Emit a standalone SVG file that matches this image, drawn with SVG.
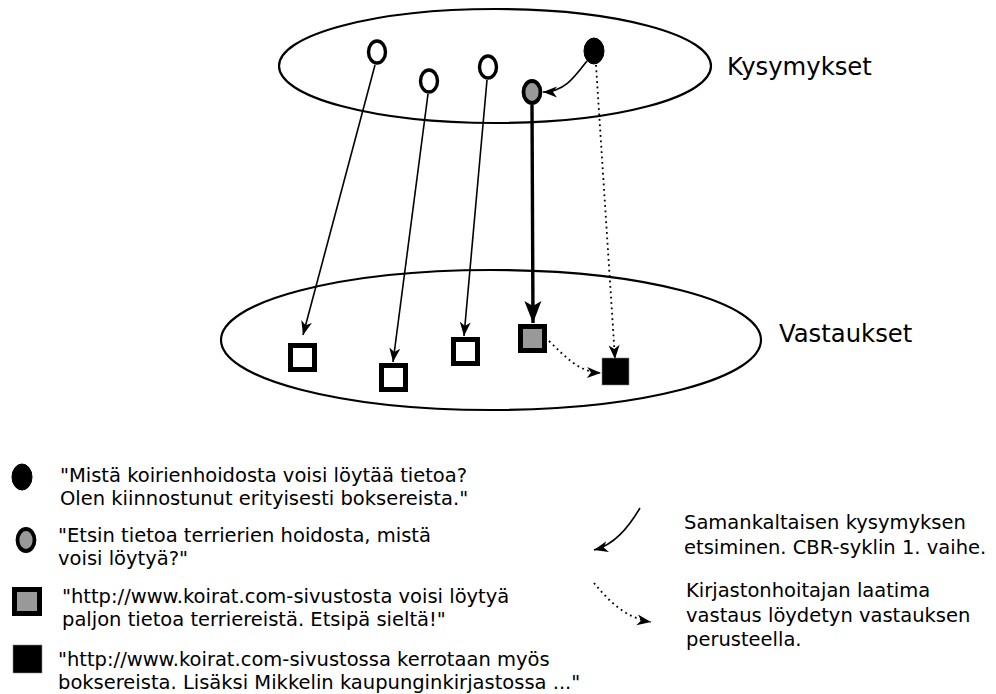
<svg xmlns="http://www.w3.org/2000/svg" width="996" height="694" viewBox="0 0 996 694">
  <defs>
    <style>
      .set { fill: none; stroke: #000; stroke-width: 2.2; }
      .q-open { fill: #fff; stroke: #000; stroke-width: 3.4; }
      .q-gray { fill: #999; stroke: #000; stroke-width: 3.8; }
      .q-black { fill: #000; stroke: #000; stroke-width: 1; }
      .a-open { fill: #fff; stroke: #000; stroke-width: 5; }
      .a-gray { fill: #999; stroke: #000; stroke-width: 5; }
      .a-black { fill: #000; stroke: #888; stroke-width: 0.6; }
      .link { fill: none; stroke: #000; stroke-width: 1.6; }
      .thick { fill: none; stroke: #000; stroke-width: 3.4; }
      .dot { fill: none; stroke: #000; stroke-width: 1.8; stroke-dasharray: 1.8 3.6; }
      text { font-family: "DejaVu Sans", "Liberation Sans", sans-serif; fill: #000; }
      .title { font-size: 24.3px; }
      .legend { font-size: 19.5px; }
    </style>
    <marker id="dart" viewBox="-15 -7 17 14" markerWidth="17" markerHeight="14" refX="0" refY="0" orient="auto" markerUnits="userSpaceOnUse">
      <path d="M 0,0 L -14,-5.5 L -10,0 L -14,5.5 Z" fill="#000"/>
    </marker>
    <marker id="dartBig" viewBox="-24 -10 26 20" markerWidth="26" markerHeight="20" refX="0" refY="0" orient="auto" markerUnits="userSpaceOnUse">
      <path d="M 0,0 L -22,-8.5 L -17,0 L -22,8.5 Z" fill="#000"/>
    </marker>
  </defs>

  <!-- question and answer sets -->
  <g id="set-kysymykset">
    <ellipse class="set" cx="495" cy="66" rx="216" ry="57"/>
    <text class="title" x="727" y="75">Kysymykset</text>
  </g>
  <g id="set-vastaukset">
    <ellipse class="set" cx="491" cy="340" rx="270" ry="70"/>
    <text class="title" x="779" y="342">Vastaukset</text>
  </g>

  <!-- connectors -->
  <g id="connectors">
    <line class="link" x1="375" y1="65" x2="303" y2="335" marker-end="url(#dart)"/>
    <line class="link" x1="428" y1="94" x2="393" y2="362" marker-end="url(#dart)"/>
    <line class="link" x1="487" y1="80" x2="464" y2="336" marker-end="url(#dart)"/>
    <line class="thick" x1="532" y1="105" x2="533" y2="323" marker-end="url(#dartBig)"/>
    <path class="dot" d="M 596,65 L 615,359" marker-end="url(#dart)"/>
    <path class="link" d="M 587,61 C 574,78 564,92 543,92" marker-end="url(#dart)"/>
    <path class="dot" d="M 549,341 C 565,356 578,372 601,373" marker-end="url(#dart)"/>
  </g>

  <!-- question nodes -->
  <g id="q1"><ellipse class="q-open" cx="377" cy="52" rx="8.5" ry="11"/></g>
  <g id="q2"><ellipse class="q-open" cx="429" cy="81" rx="8.5" ry="11"/></g>
  <g id="q3"><ellipse class="q-open" cx="488" cy="67" rx="8.5" ry="11"/></g>
  <g id="q-similar"><ellipse class="q-gray" cx="532" cy="92" rx="8.5" ry="11"/></g>
  <g id="q-new"><ellipse class="q-black" cx="594" cy="51" rx="10" ry="13"/></g>

  <!-- answer nodes -->
  <g id="a1"><rect class="a-open" x="290.5" y="345.5" width="24" height="24"/></g>
  <g id="a2"><rect class="a-open" x="381.5" y="365.5" width="24" height="24"/></g>
  <g id="a3"><rect class="a-open" x="453.5" y="339.5" width="24" height="24"/></g>
  <g id="a-found"><rect class="a-gray" x="520.5" y="326.5" width="24" height="24"/></g>
  <g id="a-new"><rect class="a-black" x="602" y="358" width="27" height="27"/></g>

  <!-- legend: node symbols -->
  <g id="legend-q-new">
    <ellipse class="q-black" cx="22" cy="477" rx="10" ry="13"/>
    <text class="legend" x="60" y="482">"Mistä koirienhoidosta voisi löytää tietoa?</text>
    <text class="legend" x="60" y="505">Olen kiinnostunut erityisesti boksereista."</text>
  </g>
  <g id="legend-q-similar">
    <ellipse class="q-gray" cx="26" cy="540" rx="8.5" ry="11"/>
    <text class="legend" x="58" y="542">"Etsin tietoa terrierien hoidosta, mistä</text>
    <text class="legend" x="58" y="565">voisi löytyä?"</text>
  </g>
  <g id="legend-a-found">
    <rect class="a-gray" x="14.5" y="589.5" width="25" height="24"/>
    <text class="legend" x="62" y="603">"http://www.koirat.com-sivustosta voisi löytyä</text>
    <text class="legend" x="62" y="626">paljon tietoa terriereistä. Etsipä sieltä!"</text>
  </g>
  <g id="legend-a-new">
    <rect class="a-black" x="13" y="645" width="29" height="28"/>
    <text class="legend" x="58" y="666">"http://www.koirat.com-sivustossa kerrotaan myös</text>
    <text class="legend" x="58" y="689">boksereista. Lisäksi Mikkelin kaupunginkirjastossa ..."</text>
  </g>

  <!-- legend: connector styles -->
  <g id="legend-similar">
    <path class="link" d="M 640,508 C 628,528 614,545 594,550" marker-end="url(#dart)"/>
    <text class="legend" x="684" y="529">Samankaltaisen kysymyksen</text>
    <text class="legend" x="684" y="554">etsiminen. CBR-syklin 1. vaihe.</text>
  </g>
  <g id="legend-librarian">
    <path class="dot" d="M 594,583 C 608,600 625,618 651,622" marker-end="url(#dart)"/>
    <text class="legend" x="686" y="597">Kirjastonhoitajan laatima</text>
    <text class="legend" x="686" y="622">vastaus löydetyn vastauksen</text>
    <text class="legend" x="686" y="646">perusteella.</text>
  </g>
</svg>
